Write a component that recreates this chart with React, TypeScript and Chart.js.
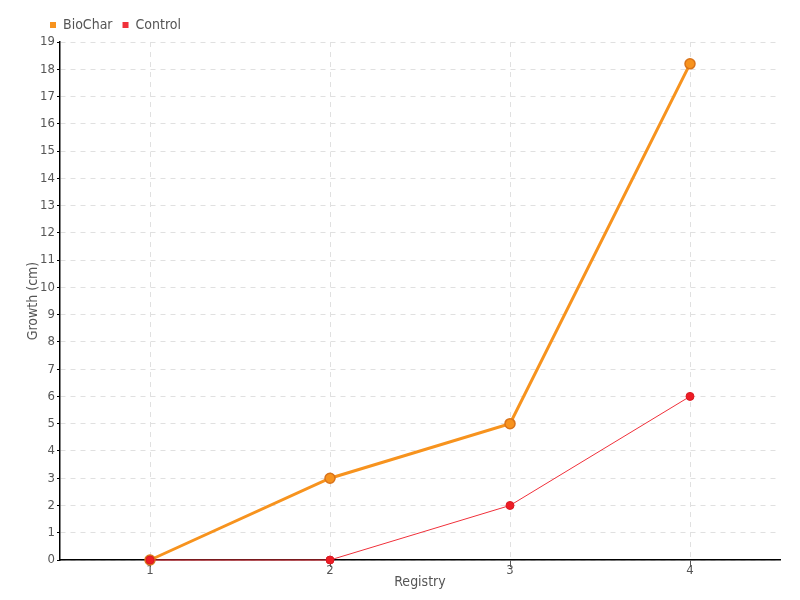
import React, { useEffect, useRef } from "react";
import { Chart, registerables } from "chart.js";
Chart.register(...registerables);

const categories = ["1", "2", "3", "4"];
const bioChar = [0, 3, 5, 18.2];
const control = [0, 0, 2, 6];
const yMax = 19;

const FONT = "'DejaVu Sans Condensed', 'Liberation Sans Narrow', sans-serif";

const legendShift = {
  id: "legendShift",
  beforeDraw(chart: any) {
    if (chart.legend) {
      chart.legend.left = 40;
    }
  },
};

export default function App() {
  const ref = useRef<HTMLCanvasElement | null>(null);
  useEffect(() => {
    if (!ref.current) return;
    const chart = new Chart(ref.current, {
      type: "line",
      data: {
        labels: categories,
        datasets: [
          {
            label: "BioChar",
            data: bioChar,
            borderColor: "#f7931e",
            backgroundColor: "#f7931e",
            pointBackgroundColor: "#f7931e",
            pointBorderColor: "#d9731a",
            pointBorderWidth: 1.5,
            pointRadius: 5,
            borderWidth: 3,
            tension: 0,
            order: 2,
            clip: false,
          },
          {
            label: "Control",
            data: control,
            borderColor: "#f0303a",
            backgroundColor: "#ee1c25",
            pointBackgroundColor: "#ee1c25",
            pointBorderColor: "#d91a22",
            pointBorderWidth: 1,
            pointRadius: 4,
            borderWidth: 1,
            tension: 0,
            order: 1,
            clip: false,
          },
        ],
      },
      plugins: [legendShift],
      options: {
        animation: false,
        responsive: false,
        layout: { padding: { left: 8, right: 20, top: 8, bottom: 9 } },
        plugins: {
          legend: {
            position: "top",
            align: "start",
            labels: {
              boxWidth: 6,
              boxHeight: 6,
              padding: 10,
              color: "#555",
              font: { family: FONT, size: 14 },
              sort: (a: any, b: any) => a.datasetIndex - b.datasetIndex,
              generateLabels: (c: any) =>
                Chart.defaults.plugins.legend.labels
                  .generateLabels(c)
                  .map((l: any) => ({ ...l, lineWidth: 0, fillStyle: l.strokeStyle })),
            },
          },
          tooltip: { enabled: false },
        },
        scales: {
          x: {
            offset: true,
            afterFit: (s: any) => {
              s.height = 31;
            },
            grid: {
              offset: false,
              color: "#e0e0e0",
              tickColor: "#555",
              tickLength: 7,
              drawTicks: true,
            },
            border: { color: "#000", width: 1.5, dash: [5, 5] },
            ticks: { color: "#555", font: { family: FONT, size: 13 }, padding: -4 },
            title: {
              display: true,
              text: "Registry",
              color: "#555",
              font: { family: FONT, size: 14 },
              padding: { top: 0, bottom: 0 },
            },
          },
          y: {
            min: 0,
            max: yMax,
            afterFit: (s: any) => {
              s.width = 52;
            },
            ticks: {
              stepSize: 1,
              color: "#555",
              font: { family: FONT, size: 13 },
              padding: 2,
            },
            grid: {
              color: "#e0e0e0",
              tickColor: "#000",
              tickLength: 3,
            },
            border: { color: "#000", width: 1.5, dash: [5, 5] },
            title: {
              display: true,
              text: "Growth (cm)",
              color: "#555",
              font: { family: FONT, size: 14 },
              padding: { top: 17, bottom: 0 },
            },
          },
        },
      },
    });
    return () => chart.destroy();
  }, []);
  return (
    <div style={{ position: "absolute", left: 0, top: 0, width: 800, height: 600 }}>
      <canvas ref={ref} width={800} height={600} />
    </div>
  );
}
